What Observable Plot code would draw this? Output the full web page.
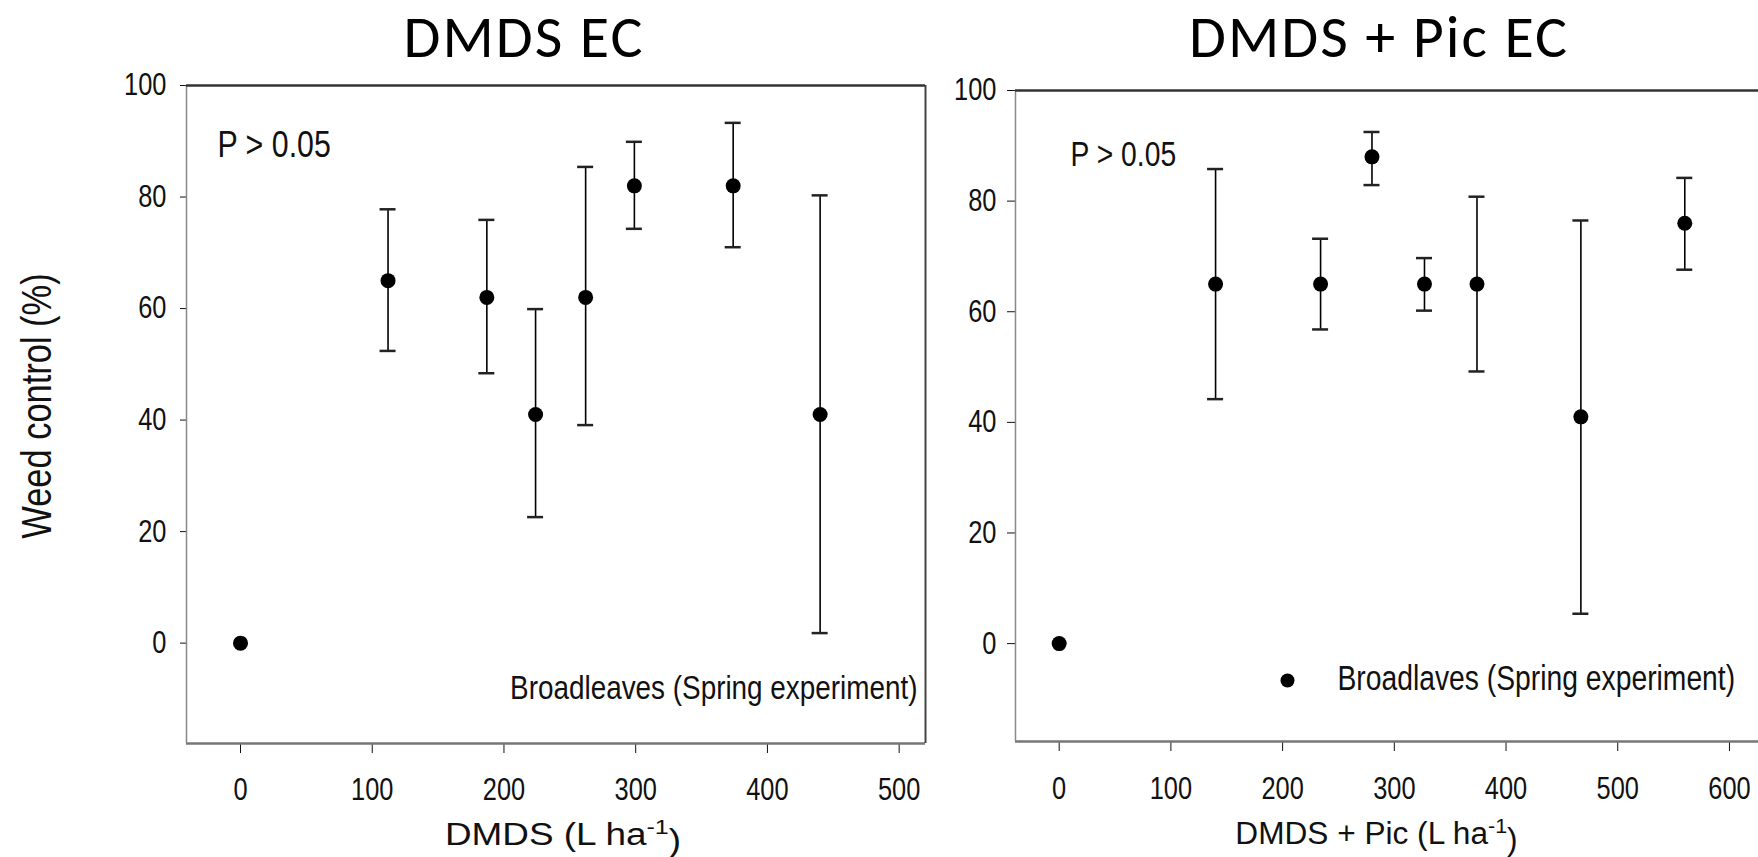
<!DOCTYPE html>
<html>
<head>
<meta charset="utf-8">
<script src="https://cdn.jsdelivr.net/npm/d3@7"></script>
<script src="https://cdn.jsdelivr.net/npm/@observablehq/plot@0.6"></script>
<style>
  html, body { margin: 0; padding: 0; background: #fff; }
  #wrap { position: relative; width: 1758px; height: 857px; overflow: hidden; background: #fff; }
  .title { position: absolute; top: 4px; width: 500px; text-align: center;
           font-family: Carlito, Calibri, Lato, sans-serif; font-size: 60px; letter-spacing: 2px;
           line-height: 1.1; color: #000; white-space: nowrap; }
  .panel { position: absolute; top: 66px; }
  .panel svg { max-width: none; display: block; }
</style>
</head>
<body>
<div id="wrap">
  <div class="title" id="t1" style="left:274px"></div>
  <div class="title" id="t2" style="left:1129px"></div>
  <div class="panel" id="p1" style="left:0px"></div>
  <div class="panel" id="p2" style="left:940px"></div>
</div>
<script>
// ---------- data ----------
const titleEC = "DMDS EC";
const titlePic = "DMDS + Pic EC";

// DMDS EC (left panel)
const doseEC = [0, 112, 187, 224, 262, 299, 374, 440];
const meanEC = [0, 65, 62, 41, 62, 82, 82, 41];
const lowEC  = [null, 52.4, 48.4, 22.6, 39.1, 74.3, 71.0, 1.8];
const highEC = [null, 77.8, 75.9, 59.9, 85.4, 89.9, 93.3, 80.3];

// DMDS + Pic EC (right panel)
const dosePic = [0, 140, 234, 280, 327, 374, 467, 560];
const meanPic = [0, 65, 65, 88, 65, 65, 41, 76];
const lowPic  = [null, 44.2, 56.8, 82.9, 60.2, 49.2, 5.4, 67.6];
const highPic = [null, 85.8, 73.2, 92.5, 69.7, 80.8, 76.5, 84.2];

const yTicks = [0, 20, 40, 60, 80, 100];
const xTicksEC = [0, 100, 200, 300, 400, 500];
const xTicksPic = [0, 100, 200, 300, 400, 500, 600];

const yLabel = "Weed control (%)";
const xLabelEC = ["DMDS (L ha", "-1", ")"];
const xLabelPic = ["DMDS + Pic (L ha", "-1", ")"];
const pLabel = "P > 0.05";
const legendEC = "Broadleaves (Spring experiment)";
const legendPic = "Broadlaves (Spring experiment)";

// ---------- build ----------
const FONT = "'Liberation Sans Narrow', 'Arial Narrow', 'Liberation Sans', Arial, sans-serif";
const NARROW = 0.82; // horizontal condensation of the reference's narrow sans

function rowsOf(dose, mean, low, high) {
  return dose.map((d, i) => ({dose: d, mean: mean[i], low: low[i], high: high[i]}));
}
const rowsEC = rowsOf(doseEC, meanEC, lowEC, highEC);
const rowsPic = rowsOf(dosePic, meanPic, lowPic, highPic);
const flat = (parts) => parts.join("");

function errorMarks(rows) {
  const bars = rows.filter(d => d.low != null);
  return [
    Plot.ruleX(bars, {x: "dose", y1: "low", y2: "high", stroke: "#000", strokeWidth: 1.6}),
    Plot.ruleY(bars, {y: "high", x1: "dose", x2: "dose", insetLeft: -8, insetRight: -8, stroke: "#222", strokeWidth: 2.5}),
    Plot.ruleY(bars, {y: "low", x1: "dose", x2: "dose", insetLeft: -8, insetRight: -8, stroke: "#222", strokeWidth: 2.5}),
    Plot.dot(rows, {x: "dose", y: "mean", r: 7.5, fill: "#000", stroke: "none"})
  ];
}

// panels start 66px below the page top
const yDomEC = [-18, 100];
const xDomEC = [-41, 520];
const left = Plot.plot({
  width: 940, height: 791,
  marginLeft: 186, marginRight: 15, marginTop: 19, marginBottom: 114,
  style: {fontFamily: FONT, fontSize: "31px", color: "#111", background: "transparent", overflow: "visible"},
  x: {domain: xDomEC, ticks: xTicksEC, tickSize: 10, tickPadding: 24, label: null},
  y: {domain: yDomEC, ticks: yTicks, tickSize: 6, tickPadding: 14, label: null},
  marks: [
    Plot.ruleY([yDomEC[0]], {stroke: "#777", strokeWidth: 2.5}),
    Plot.ruleX([xDomEC[0]], {stroke: "#888", strokeWidth: 1.5}),
    Plot.ruleX([xDomEC[1]], {stroke: "#444", strokeWidth: 2}),
    Plot.ruleY([yDomEC[1]], {stroke: "#333", strokeWidth: 2.5}),
    ...errorMarks(rowsEC),
    Plot.text([pLabel], {frameAnchor: "top-left", textAnchor: "start", lineAnchor: "middle", dx: 31, dy: 59.5, fontSize: 37, fill: "#111"}),
    Plot.text([legendEC], {frameAnchor: "bottom-right", textAnchor: "end", lineAnchor: "middle", dx: -8, dy: -55, fontSize: 34, fill: "#111"}),
    Plot.text([yLabel], {frameAnchor: "left", textAnchor: "middle", lineAnchor: "middle", rotate: -90, dx: -149, dy: -8.5, fontSize: 42, fill: "#111"}),
    Plot.text([flat(xLabelEC)], {frameAnchor: "bottom", textAnchor: "middle", lineAnchor: "middle", dx: 7, dy: 92, fontSize: 31, fill: "#111"})
  ]
});

const yDomPic = [-17.7, 100];
const xDomPic = [-39.1, 626];
const right = Plot.plot({
  width: 818, height: 791,
  marginLeft: 75, marginRight: 0, marginTop: 24, marginBottom: 116,
  style: {fontFamily: FONT, fontSize: "31px", color: "#111", background: "transparent", overflow: "visible"},
  x: {domain: xDomPic, ticks: xTicksPic, tickSize: 10, tickPadding: 25, label: null},
  y: {domain: yDomPic, ticks: yTicks, tickSize: 8, tickPadding: 11, label: null},
  marks: [
    Plot.ruleY([yDomPic[0]], {stroke: "#777", strokeWidth: 2.5}),
    Plot.ruleX([xDomPic[0]], {stroke: "#888", strokeWidth: 1.5}),
    Plot.ruleY([yDomPic[1]], {stroke: "#333", strokeWidth: 2.5}),
    ...errorMarks(rowsPic),
    Plot.text([pLabel], {frameAnchor: "top-left", textAnchor: "start", lineAnchor: "middle", dx: 55, dy: 64, fontSize: 34.5, fill: "#111"}),
    Plot.dot([legendPic], {frameAnchor: "bottom-left", dx: 272, dy: -61, r: 7, fill: "#000", stroke: "none"}),
    Plot.text([legendPic], {frameAnchor: "bottom-left", textAnchor: "start", lineAnchor: "middle", dx: 322, dy: -63, fontSize: 34.5, fill: "#111"}),
    Plot.text([flat(xLabelPic)], {frameAnchor: "bottom", textAnchor: "middle", lineAnchor: "middle", dx: -10.5, dy: 93, fontSize: 31, fill: "#111"})
  ]
});

document.getElementById("t1").textContent = titleEC;
document.getElementById("t2").textContent = titlePic;
document.getElementById("p1").appendChild(left);
document.getElementById("p2").appendChild(right);

// x-axis labels: real superscript for "-1"
function superscript(svg, parts, widthFactor) {
  for (const t of svg.querySelectorAll("text")) {
    if (t.textContent !== flat(parts)) continue;
    while (t.firstChild) t.removeChild(t.firstChild);
    const ns = "http://www.w3.org/2000/svg";
    const a = document.createElementNS(ns, "tspan"); a.textContent = parts[0];
    const s = document.createElementNS(ns, "tspan"); s.textContent = parts[1];
    s.setAttribute("font-size", "0.68em"); s.setAttribute("dy", "-0.55em");
    const c = document.createElementNS(ns, "tspan"); c.textContent = parts[2];
    c.setAttribute("dy", "0.55em");
    t.append(a, s, c);
    t.dataset.factor = widthFactor;
  }
}
superscript(left, xLabelEC, 1.19);
superscript(right, xLabelPic, 1.02);

// condense the sans text horizontally (about its own anchor) like the reference's narrow face
for (const svg of [left, right]) {
  for (const t of svg.querySelectorAll("text")) {
    const f = t.dataset.factor ? +t.dataset.factor : NARROW;
    const ax = parseFloat(t.getAttribute("x")) || 0;
    const tr = t.getAttribute("transform") || "";
    t.setAttribute("transform", `${tr} translate(${ax},0) scale(${f},1) translate(${-ax},0)`.trim());
  }
}
</script>
</body>
</html>
